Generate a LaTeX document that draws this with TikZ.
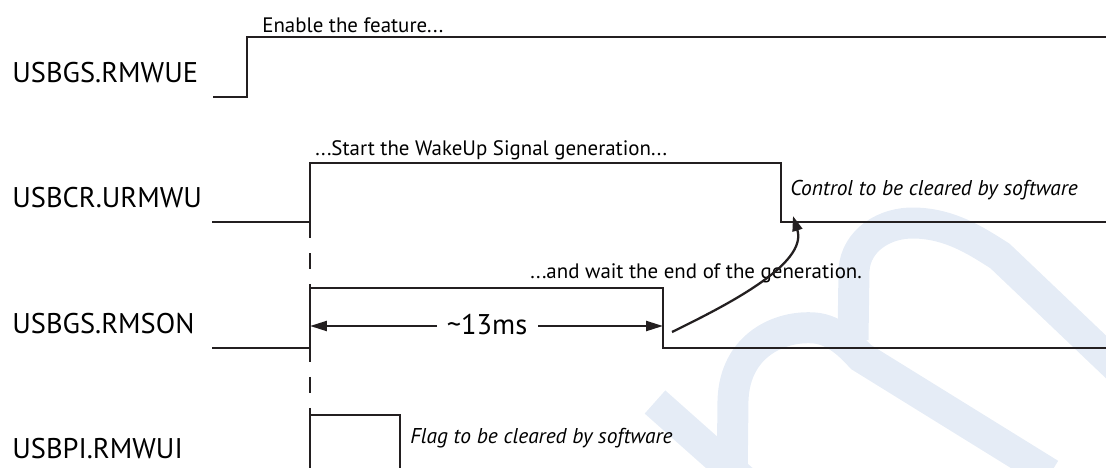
\documentclass[tikz,border=0pt]{standalone}
\usepackage{fontspec}
\setmainfont{PT Sans}
\usepackage{xcolor}
\usetikzlibrary{
  arrows.meta,
  positioning,
  calc,
}

\definecolor{wmblue}{RGB}{229,236,246}
\definecolor{inkblack}{RGB}{35,31,32}

\begin{document}
\begin{tikzpicture}[
  x=0.02cm, y=-0.02cm,
  every node/.style={inner sep=0pt, anchor=base west},
  wave/.style={inkblack, line width=1.5pt},
  regname/.style={font=\fontsize{16.2}{19}\selectfont},
  note/.style={font=\fontsize{11.9}{14}\selectfont},
  remark/.style={font=\fontsize{12.2}{14}\selectfont\itshape},
  dimarrow/.style={inkblack, line width=1.3pt, -{Triangle[length=0.34cm,width=0.2cm]}},
]

\useasboundingbox (0,0) rectangle (1106,467);

% watermark
\begin{scope}
\clip (0,0) rectangle (1106,467);
\draw[wmblue, line width=0.62cm] (655,402) -- (745,482);
\draw[wmblue, line width=0.62cm] (732,490) -- (733,400)
  .. controls (735,345) and (780,325) .. (815,328)
  .. controls (835,330) and (850,345) .. (861,357) -- (1050,474);
\draw[wmblue, line width=0.62cm] (853,340) -- (854,270)
  .. controls (856,240) and (885,222) .. (915,223)
  .. controls (950,224) and (975,240) .. (1000,256) -- (1125,375);
\end{scope}

% register names
\foreach \y/\name [count=\i] in {82/USBGS.RMWUE, 207/USBCR.URMWU, 333/USBGS.RMSON, 458/USBPI.RMWUI}{
  \node[regname] (reg\i) at (12,\y) {\name};
}

% waveforms
\draw[wave, dash pattern=on 0.32cm off 0.30cm] (310,222) -- (310,470);
\draw[wave] (213,97) -- (247,97) -- (247,37) -- (1110,37);
\draw[wave] (212,222) -- (310,222) -- (310,163) -- (781,163) -- (781,222) -- (1110,222);
\draw[wave] (212,348) -- (310,348) -- (310,288) -- (663,288) -- (663,348) -- (1110,348);
\draw[wave] (310,475) -- (310,415) -- (400,415) -- (400,475);

\node[note] (enable) at (262,32) {Enable the feature...};
\node[note] (start) at (315,155) {...Start the WakeUp Signal generation...};
\node[note] (wait) at (530,278) {...and wait the end of the generation.};
\node[remark] (ctrl) at (790,195) {Control to be cleared by software};
\node[remark] (flag) at (410,443) {Flag to be cleared by software};

% duration
\node[regname, anchor=base] (dur) at (487,334) {\textasciitilde 13ms};
\coordinate (rise) at (310,326);
\coordinate (fall) at (663,326);
\coordinate (gapl) at (437,326);
\coordinate (gapr) at (538,326);
\draw[dimarrow] (gapl) -- (rise);
\draw[dimarrow] (gapr) -- (fall);

\coordinate (endgen) at (672,332);
\coordinate (clear) at (793,216);
\draw[dimarrow, -{Triangle[length=0.3cm,width=0.2cm]}]
  (endgen) .. controls (727,305) and (808,264) .. (clear);

\end{tikzpicture}
\end{document}
